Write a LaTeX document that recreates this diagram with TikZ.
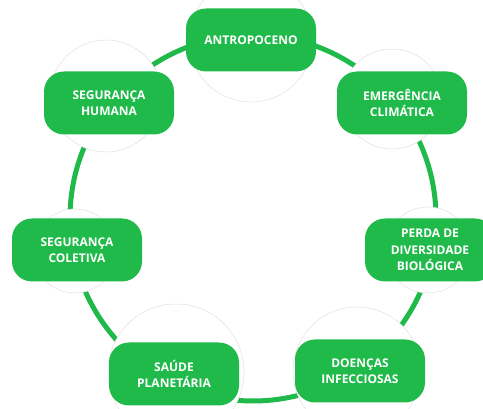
\documentclass[tikz,border=0pt]{standalone}
\usepackage{fontspec}
\setmainfont{Open Sans}
\definecolor{verde}{RGB}{31,186,74}
\begin{document}
\begin{tikzpicture}[
  x=1pt, y=-1pt,
  ring/.style={draw=verde, line width=5pt},
  halo/.style={circle, fill=white, draw=black!12, line width=0.5pt, inner sep=0pt},
  topic/.style={rectangle, rounded corners=20pt, fill=verde, text=white,
    minimum width=130pt, minimum height=63pt, align=center,
    font=\fontsize{12}{16.5}\selectfont\bfseries}
]
  \useasboundingbox (0,0) rectangle (483,409);
  \clip (0,0) rectangle (483,409);
  \coordinate (centre) at (253,218);
  \draw[ring] (centre) circle[radius=183pt];

  \node[halo, minimum size=124pt] (haloA) at (251,40) {};
  \node[halo, minimum size=112pt] (haloB) at (106,96) {};
  \node[halo, minimum size=100pt] (haloC) at (392,99) {};
  \node[halo, minimum size=84pt] (haloD) at (75,251) {};
  \node[halo, minimum size=86pt] (haloE) at (428,250) {};
  \node[halo, minimum size=136pt] (haloF) at (176,372) {};
  \node[halo, minimum size=128pt] (haloG) at (357,371) {};

  \node[topic] (antropoceno) at (251,40) {ANTROPOCENO};
  \node[topic] (segHumana) at (109,103) {SEGURANÇA\\HUMANA};
  \node[topic] (emergencia) at (402,103) {EMERGÊNCIA\\CLIMÁTICA};
  \node[topic] (segColetiva) at (77,250) {SEGURANÇA\\COLETIVA};
  \node[topic] (perda) at (430,250) {PERDA DE\\DIVERSIDADE\\BIOLÓGICA};
  \node[topic] (saude) at (174,374) {SAÚDE\\PLANETÁRIA};
  \node[topic] (doencas) at (360,371) {DOENÇAS\\INFECCIOSAS};
\end{tikzpicture}
\end{document}
